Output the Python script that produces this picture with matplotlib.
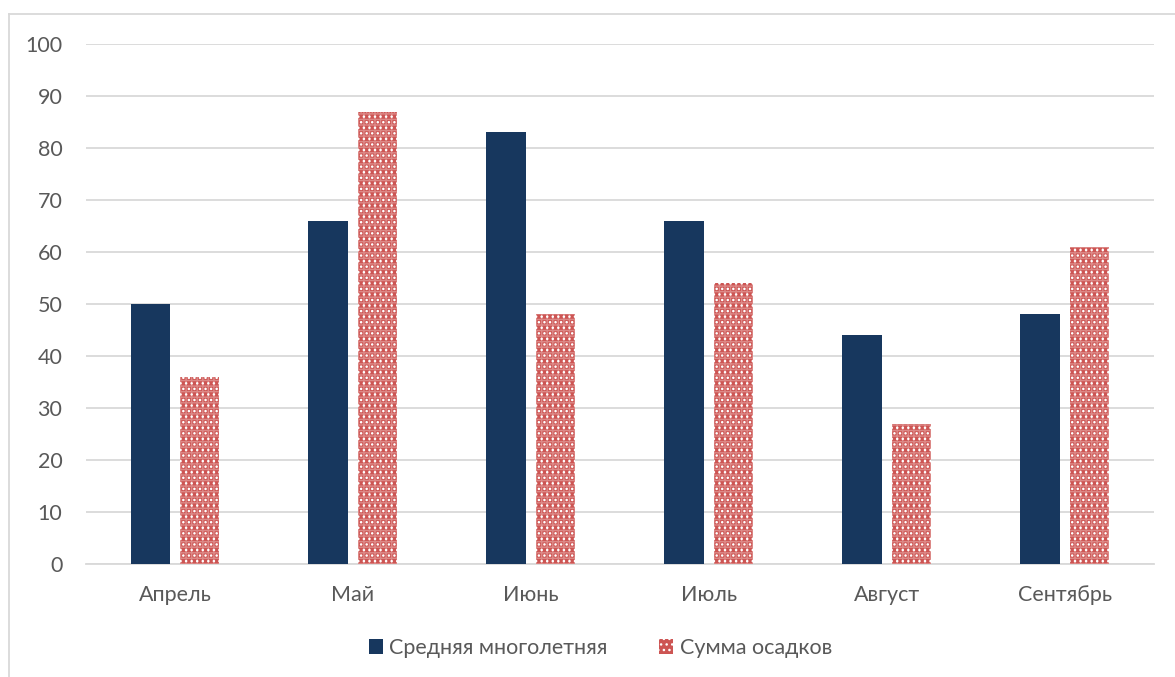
import matplotlib
matplotlib.use("Agg")
import matplotlib.pyplot as plt
from matplotlib.patches import Patch
from matplotlib.lines import Line2D
import numpy as np

months = ["Апрель", "Май", "Июнь", "Июль", "Август", "Сентябрь"]
avg_longterm = [50, 66, 83, 66, 44, 48]
precip_sum = [36, 87, 48, 54, 27, 61]
series_names = ["Средняя многолетняя", "Сумма осадков"]
yticks = [0, 10, 20, 30, 40, 50, 60, 70, 80, 90, 100]

NAVY = "#17375E"
RED = "#CD5553"
GRID = "#D9D9D9"
TEXT = "#595959"
DOTS = "..."
MESH = "+++"

plt.rcParams["font.family"] = ["Lato", "DejaVu Sans"]
plt.rcParams["hatch.linewidth"] = 1.0

fig = plt.figure(figsize=(11.75, 6.77), dpi=100)
ax = fig.add_axes([0.0732, 0.1669, 0.9088, 0.7681])

x = np.arange(len(months))
w = 0.22
off = 0.14

ax.bar(x - off, avg_longterm, width=w, color=NAVY, linewidth=0, zorder=3)
# patterned bars: red fill, faint white mesh, white dots
ax.bar(x + off, precip_sum, width=w, color=RED, linewidth=0, zorder=3)
ax.bar(x + off, precip_sum, width=w, facecolor="none", edgecolor=(1, 1, 1, 0.3),
       linewidth=0, hatch=MESH, zorder=4)
ax.bar(x + off, precip_sum, width=w, facecolor="none", edgecolor="white",
       linewidth=0, hatch=DOTS, zorder=5)

ax.set_xlim(-0.5, len(months) - 0.5)
ax.set_ylim(0, 100)
ax.set_yticks(yticks)
ax.set_yticklabels([str(v) for v in yticks])
ax.set_xticks(x)
ax.set_xticklabels(months)

ax.yaxis.grid(True, color=GRID, linewidth=1.3, zorder=0)
ax.set_axisbelow(True)
for s in ["top", "right", "left"]:
    ax.spines[s].set_visible(False)
ax.spines["bottom"].set_color(GRID)
ax.spines["bottom"].set_linewidth(1.3)
ax.tick_params(axis="both", length=0, labelsize=15.5, colors=TEXT)
ax.tick_params(axis="y", pad=17)
ax.tick_params(axis="x", pad=15)

handles = [
    Patch(facecolor=NAVY, edgecolor="none"),
    Patch(facecolor=RED, edgecolor="white", linewidth=0, hatch=DOTS),
]
leg = fig.legend(handles, series_names, loc="center", bbox_to_anchor=(0.511, 0.043),
                 ncol=2, frameon=False, fontsize=15.5, handlelength=0.65,
                 handleheight=0.65, handletextpad=0.3, columnspacing=2.4)
for t in leg.get_texts():
    t.set_color(TEXT)

# chart frame
fig.add_artist(Line2D([9 / 1175, 9 / 1175], [0, 1 - 14 / 677],
                      transform=fig.transFigure, color=GRID, linewidth=1.3))
fig.add_artist(Line2D([9 / 1175, 1], [1 - 14 / 677, 1 - 14 / 677],
                      transform=fig.transFigure, color=GRID, linewidth=1.3))

fig.savefig("out.png", dpi=100, facecolor="white")
